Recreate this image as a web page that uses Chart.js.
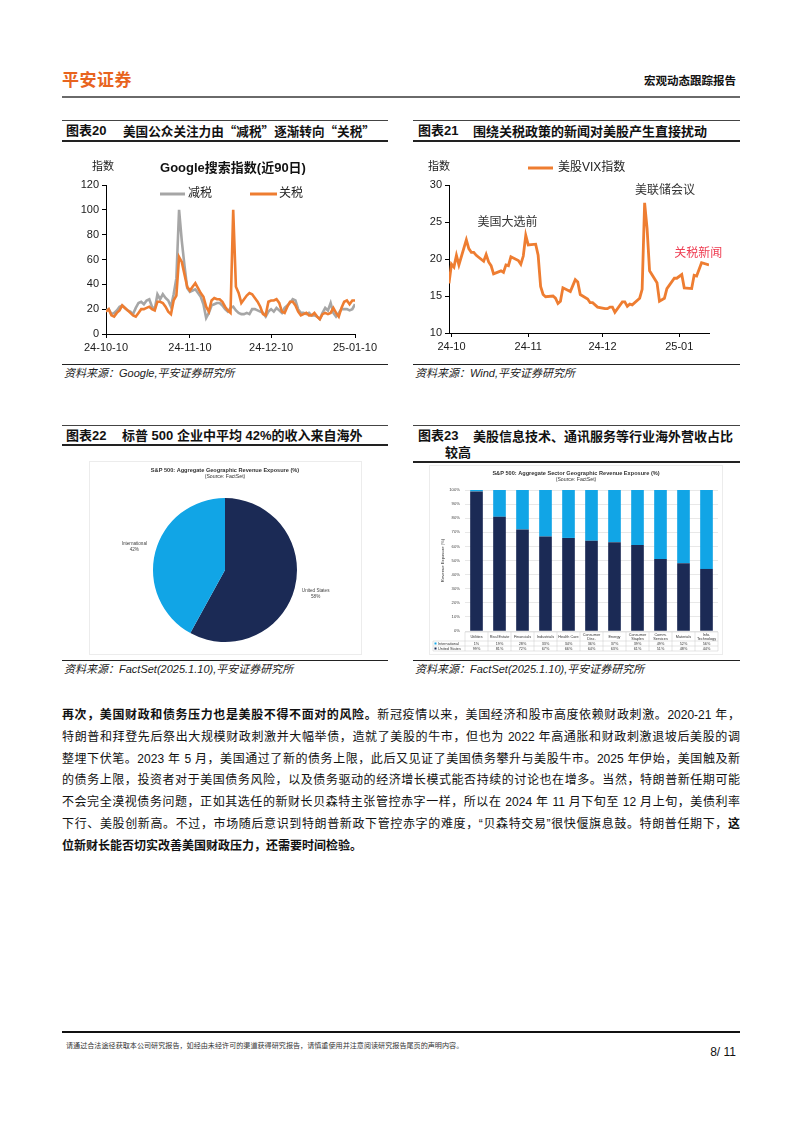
<!DOCTYPE html>
<html><head><meta charset="utf-8">
<script src="https://cdn.jsdelivr.net/npm/chart.js@4.4.1/dist/chart.umd.min.js"></script>
<style>
html,body{margin:0;padding:0;background:#fff;}
body{width:802px;height:1133px;position:relative;overflow:hidden;font-family:'Liberation Sans','Noto Sans CJK SC',sans-serif;color:#111;}
.t{position:absolute;white-space:nowrap;}
.hl{position:absolute;background:#222;}
.ft{font-size:13px;font-weight:bold;line-height:16px;}
.cjk{font-family:'Noto Sans CJK SC','Liberation Sans',sans-serif;}
.src{font-size:11px;font-style:italic;line-height:14px;color:#222;}
canvas{position:absolute;}
.para{position:absolute;left:62px;top:705px;width:678px;font-family:'Liberation Sans Narrow','Liberation Sans','Noto Sans CJK SC',sans-serif;font-size:12px;line-height:21.8px;color:#111;}
.ln{text-align:justify;text-align-last:justify;height:21.8px;overflow:visible;}
.ln.last{text-align-last:left;}
.box{position:absolute;border:1px solid #ececec;background:#fff;}
</style></head>
<body>
<!-- header -->
<div class="t" style="left:62px;top:68px;font-size:17px;font-weight:bold;color:#e8641e;font-family:'Noto Sans CJK SC';line-height:22px;letter-spacing:0.5px;">平安证券</div>
<div class="t" style="right:66px;top:72px;font-size:11.5px;font-weight:bold;font-family:'Noto Sans CJK SC';line-height:16px;">宏观动态跟踪报告</div>
<div class="hl" style="left:62px;top:96px;width:678px;height:2px;background:#6a6a6a;"></div>

<!-- figure 20 title -->
<div class="hl" style="left:62px;top:120px;width:326px;height:1px;background:#444;"></div>
<div class="t ft" style="left:66px;top:123px;">图表20</div>
<div class="t ft cjk" style="left:123px;top:123px;font-size:12.6px;">美国公众关注力由“减税”逐渐转向“关税”</div>
<div class="hl" style="left:62px;top:140px;width:326px;height:1.5px;"></div>
<div class="hl" style="left:62px;top:364px;width:326px;height:1px;"></div>
<div class="t src" style="left:64px;top:366px;">资料来源：Google,平安证券研究所</div>

<!-- figure 21 title -->
<div class="hl" style="left:413px;top:120px;width:327px;height:1px;background:#444;"></div>
<div class="t ft" style="left:418px;top:123px;">图表21</div>
<div class="t ft cjk" style="left:473px;top:123px;">围绕关税政策的新闻对美股产生直接扰动</div>
<div class="hl" style="left:413px;top:140px;width:327px;height:1.5px;"></div>
<div class="hl" style="left:413px;top:364px;width:327px;height:1px;"></div>
<div class="t src" style="left:415px;top:366px;">资料来源：Wind,平安证券研究所</div>

<!-- figure 22 title -->
<div class="hl" style="left:62px;top:425px;width:326px;height:1px;background:#444;"></div>
<div class="t ft" style="left:66px;top:428px;">图表22</div>
<div class="t ft" style="left:122px;top:428px;">标普 500 企业中平均 42%的收入来自海外</div>
<div class="hl" style="left:62px;top:444px;width:326px;height:1.5px;"></div>
<div class="hl" style="left:62px;top:660px;width:326px;height:1px;"></div>
<div class="t src" style="left:64px;top:662px;">资料来源：FactSet(2025.1.10),平安证券研究所</div>

<!-- figure 23 title -->
<div class="hl" style="left:413px;top:425px;width:327px;height:1px;background:#444;"></div>
<div class="t ft" style="left:418px;top:428px;">图表23</div>
<div class="t ft cjk" style="left:473px;top:428px;">美股信息技术、通讯服务等行业海外营收占比</div>
<div class="t ft cjk" style="left:445px;top:444px;">较高</div>
<div class="hl" style="left:413px;top:461px;width:327px;height:1.5px;"></div>
<div class="hl" style="left:413px;top:660px;width:327px;height:1px;"></div>
<div class="t src" style="left:415px;top:662px;">资料来源：FactSet(2025.1.10),平安证券研究所</div>

<canvas id="c20" width="326" height="220" style="left:62px;top:142px;"></canvas>
<canvas id="c21" width="327" height="220" style="left:413px;top:142px;"></canvas>
<div class="box" style="left:89px;top:461px;width:271px;height:192px;"></div>
<canvas id="c22" width="270" height="192" style="left:90px;top:462px;"></canvas>
<div class="box" style="left:429px;top:465px;width:292px;height:188px;"></div>
<canvas id="c23" width="292" height="187" style="left:430px;top:466px;"></canvas>

<div class="para">
<div class="ln"><b>再次，美国财政和债务压力也是美股不得不面对的风险。</b>新冠疫情以来，美国经济和股市高度依赖财政刺激。2020-21 年，</div>
<div class="ln">特朗普和拜登先后祭出大规模财政刺激并大幅举债，造就了美股的牛市，但也为 2022 年高通胀和财政刺激退坡后美股的调</div>
<div class="ln">整埋下伏笔。2023 年 5 月，美国通过了新的债务上限，此后又见证了美国债务攀升与美股牛市。2025 年伊始，美国触及新</div>
<div class="ln">的债务上限，投资者对于美国债务风险，以及债务驱动的经济增长模式能否持续的讨论也在增多。当然，特朗普新任期可能</div>
<div class="ln">不会完全漠视债务问题，正如其选任的新财长贝森特主张管控赤字一样，所以在 2024 年 11 月下旬至 12 月上旬，美债利率</div>
<div class="ln">下行、美股创新高。不过，市场随后意识到特朗普新政下管控赤字的难度，“贝森特交易”很快偃旗息鼓。特朗普任期下，<b>这</b></div>
<div class="ln last"><b>位新财长能否切实改善美国财政压力，还需要时间检验。</b></div>
</div>

<!-- footer -->
<div class="hl" style="left:62px;top:1031px;width:678px;height:1.5px;background:#111;"></div>
<div class="t" style="left:66px;top:1040px;font-size:7.1px;line-height:10px;color:#333;font-family:'Noto Sans CJK SC';">请通过合法途径获取本公司研究报告，如经由未经许可的渠道获得研究报告，请慎重使用并注意阅读研究报告尾页的声明内容。</div>
<div class="t" style="right:66px;top:1045px;font-size:12px;line-height:14px;color:#111;font-family:'Liberation Sans Narrow','Liberation Sans';">8/ 11</div>

<script>
// ---------- DATA ----------
// Chart 20: Google search index, daily 2024-10-10 .. 2025-01-10
const c20Title = 'Google搜索指数(近90日)';
const c20TickPos = [0, 31, 61, 92];
const c20TickLabels = ['24-10-10', '24-11-10', '24-12-10', '25-01-10'];
const c20SeriesNames = ['减税', '关税'];
const c20Jianshui = [
  19,20,16,17,19,22,23,21,19,18,
  16,21,25,26,24,27,28,22,20,32,
  28,32,29,27,22,32,45,100,75,55,
  37,34,35,36,33,30,24,13,17,23,
  24,25,25,23,20,18,21,22,19,17,
  16,16,17,16,20,20,19,18,17,14,
  18,20,18,21,19,17,21,23,25,28,
  27,20,17,17,16,17,15,15,14,12,
  17,21,19,25,17,14,17,20,20,20,
  19,20,24];
const c20Guanshui = [
  18,20,15,14,17,19,23,21,19,17,
  15,14,17,20,20,21,22,20,19,26,
  26,25,22,18,16,27,31,62,58,48,
  38,35,38,41,37,33,30,22,18,27,
  29,28,28,26,22,19,17,100,38,33,
  25,28,31,33,32,29,26,22,16,15,
  26,27,27,28,25,18,17,22,26,26,
  23,18,15,16,17,15,15,17,14,12,
  16,17,16,17,21,17,14,21,26,27,
  24,27,27];

// Chart 21: VIX
const c21SeriesName = '美股VIX指数';
const c21Origin = '2024-10-01';
const c21TickPos = [0, 31, 61, 92];
const c21TickLabels = ['24-10', '24-11', '24-12', '25-01'];
const c21Dates = ['2024-09-30','2024-10-01','2024-10-02','2024-10-03','2024-10-04','2024-10-07','2024-10-08','2024-10-09','2024-10-10','2024-10-11',
  '2024-10-14','2024-10-15','2024-10-16','2024-10-17','2024-10-18','2024-10-21','2024-10-22','2024-10-23','2024-10-24','2024-10-25',
  '2024-10-28','2024-10-29','2024-10-30','2024-10-31','2024-11-01','2024-11-04','2024-11-05','2024-11-06','2024-11-07','2024-11-08',
  '2024-11-11','2024-11-12','2024-11-13','2024-11-14','2024-11-15','2024-11-18','2024-11-19','2024-11-20','2024-11-21','2024-11-22',
  '2024-11-25','2024-11-26','2024-11-27','2024-11-29','2024-12-02','2024-12-03','2024-12-04','2024-12-05','2024-12-06','2024-12-09',
  '2024-12-10','2024-12-11','2024-12-12','2024-12-13','2024-12-16','2024-12-17','2024-12-18','2024-12-19','2024-12-20','2024-12-23',
  '2024-12-24','2024-12-26','2024-12-27','2024-12-30','2024-12-31','2025-01-02','2025-01-03','2025-01-06','2025-01-07','2025-01-08',
  '2025-01-10','2025-01-13'];
const c21Vix = [16.7,19.3,18.9,20.5,19.2,22.6,21.4,20.9,20.9,20.5,
  19.7,20.6,19.6,19.1,18.0,18.4,18.2,19.2,19.1,20.3,
  19.8,19.3,20.4,23.2,21.9,22.0,20.5,16.3,15.2,14.9,
  15.0,14.7,14.0,14.3,16.1,15.6,16.4,17.2,16.9,15.2,
  14.6,14.1,14.1,13.5,13.3,13.3,13.5,13.5,12.8,14.2,
  14.2,13.6,13.9,13.8,14.7,15.9,27.6,24.1,18.4,16.8,
  14.3,14.7,16.0,17.4,17.4,17.9,16.1,16.0,17.8,17.7,
  19.5,19.2];
const c21NoteTexts = ['美国大选前', '美联储会议', '关税新闻'];
const c21NoteDays = [22.6, 86.2, 99.7];
const c21NoteVals = [24.9, 29.2, 20.7];

// Chart 22: pie
const c22Title = 'S&P 500: Aggregate Geographic Revenue Exposure (%)';
const c22Sub = '(Source: FactSet)';
const c22Labels = ['United States', 'International'];
const c22Values = [58, 42];

// Chart 23: stacked bars
const c23Title = 'S&P 500: Aggregate Sector Geographic Revenue Exposure (%)';
const c23Sub = '(Source: FactSet)';
const c23YTitle = 'Revenue Exposure (%)';
const c23Sectors = ['Utilities','Real Estate','Financials','Industrials','Health Care',['Consumer','Disc.'],'Energy',['Consumer','Staples'],['Comm.','Services'],'Materials',['Info.','Technology']];
const c23SeriesNames = ['International', 'United States'];
const c23Intl = [1,19,28,33,34,36,37,39,49,52,56];
const c23US = [99,81,72,67,66,64,63,61,51,48,44];

// ---------- STYLE ----------
const FONT = "'Liberation Sans','Noto Sans CJK SC',sans-serif";
const ORANGE = '#ee7d31', GREY = '#a6a6a6', NAVY = '#1b2a55', SKY = '#11a5e6';
Chart.defaults.color = '#1a1a1a';
Chart.defaults.font.family = FONT;

function lineLegend(ctx, x1, x2, y, color, label, tx) {
  ctx.strokeStyle = color; ctx.lineWidth = 3; ctx.lineCap = 'butt';
  ctx.beginPath(); ctx.moveTo(x1, y); ctx.lineTo(x2, y); ctx.stroke();
  ctx.fillStyle = '#222'; ctx.textAlign = 'left'; ctx.textBaseline = 'middle';
  ctx.fillText(label, tx, y);
}

const axisCommon = (extra) => Object.assign({
  grid: {drawOnChartArea: false, drawTicks: true, tickLength: 4, color: '#000', lineWidth: 1},
  border: {color: '#000', width: 1},
}, extra);

// ---------- CHART 20 ----------
const c20Deco = {
  id: 'c20Deco',
  afterDraw(chart) {
    const ctx = chart.ctx; ctx.save();
    ctx.fillStyle = '#222'; ctx.font = '11px ' + FONT; ctx.textBaseline = 'middle'; ctx.textAlign = 'left';
    ctx.fillText('指数', 30, 25);
    ctx.font = 'bold 13px ' + FONT; ctx.textAlign = 'center'; ctx.fillStyle = '#111';
    ctx.fillText(c20Title, 171, 26);
    ctx.font = '12px ' + FONT;
    const ds = chart.data.datasets;
    lineLegend(ctx, 98, 123, 52, ds[0].borderColor, ds[0].label, 126);
    lineLegend(ctx, 188, 215, 52, ds[1].borderColor, ds[1].label, 217);
    ctx.restore();
  }
};
new Chart(document.getElementById('c20'), {
  type: 'line',
  data: {
    datasets: [
      {label: c20SeriesNames[0], data: c20Jianshui.map((v, i) => ({x: i, y: v})), borderColor: GREY, backgroundColor: GREY, borderWidth: 2.6, pointRadius: 0, order: 1, tension: 0},
      {label: c20SeriesNames[1], data: c20Guanshui.map((v, i) => ({x: i, y: v})), borderColor: ORANGE, backgroundColor: ORANGE, borderWidth: 2.6, pointRadius: 0, order: 0, tension: 0}
    ]
  },
  options: {
    responsive: false, animation: false, devicePixelRatio: 1,
    layout: {padding: {top: 43, right: 33, left: 0, bottom: 0}},
    plugins: {legend: {display: false}, tooltip: {enabled: false}},
    scales: {
      x: axisCommon({type: 'linear', min: 0, max: c20Jianshui.length - 1,
        afterBuildTicks(s) { s.ticks = c20TickPos.map(v => ({value: v})); },
        afterFit(s) { s.height = 28; },
        ticks: {autoSkip: false, maxRotation: 0, padding: 3, font: {size: 11}, color: '#1a1a1a',
          callback: (v) => c20TickLabels[c20TickPos.indexOf(v)]}}),
      y: axisCommon({min: 0, max: 120,
        afterFit(s) { s.width = 44; },
        ticks: {stepSize: 20, padding: 3, font: {size: 11}, color: '#1a1a1a'}})
    }
  },
  plugins: [c20Deco]
});

// ---------- CHART 21 ----------
const c21Deco = {
  id: 'c21Deco',
  afterDraw(chart) {
    const ctx = chart.ctx; ctx.save();
    ctx.fillStyle = '#222'; ctx.font = '11px ' + FONT; ctx.textBaseline = 'middle'; ctx.textAlign = 'left';
    ctx.fillText('指数', 15, 25);
    ctx.font = '12px ' + FONT;
    const ds = chart.data.datasets;
    lineLegend(ctx, 115, 140, 26, ds[0].borderColor, ds[0].label, 145);
    const xs = chart.scales.x, ys = chart.scales.y;
    ctx.textAlign = 'center';
    c21NoteTexts.forEach((t, i) => {
      ctx.fillStyle = i === 2 ? '#ee3b50' : '#333';
      ctx.fillText(t, xs.getPixelForValue(c21NoteDays[i]), ys.getPixelForValue(c21NoteVals[i]));
    });
    ctx.restore();
  }
};
const dayMs = 86400000;
const c21Points = c21Dates.map((d, i) => ({x: (Date.parse(d) - Date.parse(c21Origin)) / dayMs, y: c21Vix[i]}));
new Chart(document.getElementById('c21'), {
  type: 'line',
  data: {datasets: [{label: c21SeriesName, data: c21Points, borderColor: ORANGE, backgroundColor: ORANGE, borderWidth: 2.8, pointRadius: 0, tension: 0}]},
  options: {
    responsive: false, animation: false, devicePixelRatio: 1,
    layout: {padding: {top: 43, right: 31, left: 0, bottom: 0}},
    plugins: {legend: {display: false}, tooltip: {enabled: false}},
    scales: {
      x: axisCommon({type: 'linear', min: c21Points[0].x, max: c21Points[c21Points.length - 1].x,
        afterBuildTicks(s) { s.ticks = c21TickPos.map(v => ({value: v})); },
        afterFit(s) { s.height = 29; },
        ticks: {autoSkip: false, maxRotation: 0, padding: 3, font: {size: 11}, color: '#1a1a1a',
          callback: (v) => c21TickLabels[c21TickPos.indexOf(v)]}}),
      y: axisCommon({min: 10, max: 30,
        afterFit(s) { s.width = 36; },
        ticks: {stepSize: 5, padding: 3, font: {size: 11}, color: '#1a1a1a'}})
    }
  },
  plugins: [c21Deco]
});

// ---------- CHART 22 ----------
const c22Deco = {
  id: 'c22Deco',
  afterDraw(chart) {
    const ctx = chart.ctx; ctx.save();
    ctx.textAlign = 'center'; ctx.textBaseline = 'middle'; ctx.fillStyle = '#333';
    ctx.font = 'bold 5.6px ' + FONT; ctx.fillText(c22Title, 135, 8);
    ctx.font = '5.2px ' + FONT; ctx.fillText(c22Sub, 135, 15);
    const meta = chart.getDatasetMeta(0);
    ctx.font = '4.6px ' + FONT; ctx.fillStyle = '#444';
    meta.data.forEach((arc, i) => {
      const mid = (arc.startAngle + arc.endAngle) / 2;
      const r = arc.outerRadius * 1.3;
      const x = arc.x + Math.cos(mid) * r, y = arc.y + Math.sin(mid) * r;
      ctx.fillText(chart.data.labels[i], x, y - 3);
      ctx.fillText(chart.data.datasets[0].data[i] + '%', x, y + 3);
    });
    ctx.restore();
  }
};
new Chart(document.getElementById('c22'), {
  type: 'pie',
  data: {labels: c22Labels, datasets: [{data: c22Values, backgroundColor: [NAVY, SKY], borderWidth: 0}]},
  options: {
    responsive: false, animation: false, devicePixelRatio: 1,
    layout: {padding: {top: 36, bottom: 12, left: 0, right: 0}},
    plugins: {legend: {display: false}, tooltip: {enabled: false}}
  },
  plugins: [c22Deco]
});

// ---------- CHART 23 ----------
const c23Deco = {
  id: 'c23Deco',
  afterDraw(chart) {
    const ctx = chart.ctx; const xs = chart.scales.x; const ca = chart.chartArea;
    ctx.save();
    ctx.textAlign = 'center'; ctx.textBaseline = 'middle'; ctx.fillStyle = '#333';
    ctx.font = 'bold 5.6px ' + FONT; ctx.fillText(c23Title, 146, 7);
    ctx.font = '5.2px ' + FONT; ctx.fillText(c23Sub, 146, 14);
    // y title
    ctx.save(); ctx.translate(13, (ca.top + ca.bottom) / 2); ctx.rotate(-Math.PI / 2);
    ctx.font = '4.2px ' + FONT; ctx.fillText(c23YTitle, 0, 0); ctx.restore();
    // data table
    const n = c23Sectors.length, step = xs.width / n;
    const rows = [ca.bottom + 1, ca.bottom + 10, ca.bottom + 15, ca.bottom + 20];
    const tl = 3;
    ctx.strokeStyle = '#c8c8c8'; ctx.lineWidth = 0.5;
    rows.forEach((ry, k) => { ctx.beginPath(); ctx.moveTo(k === 0 ? xs.left : tl, ry); ctx.lineTo(xs.right, ry); ctx.stroke(); });
    for (let i = 0; i <= n; i++) { const vx = xs.left + i * step; ctx.beginPath(); ctx.moveTo(vx, rows[0]); ctx.lineTo(vx, rows[3]); ctx.stroke(); }
    ctx.beginPath(); ctx.moveTo(tl, rows[1]); ctx.lineTo(tl, rows[3]); ctx.stroke();
    ctx.font = '3.8px ' + FONT; ctx.fillStyle = '#333';
    c23Sectors.forEach((s, i) => {
      const cx = xs.getPixelForValue(i);
      const lines = Array.isArray(s) ? s : [s];
      const y0 = (rows[0] + rows[1]) / 2 - (lines.length - 1) * 2;
      lines.forEach((l, k) => ctx.fillText(l, cx, y0 + k * 4));
      ctx.fillText(c23Intl[i] + '%', cx, (rows[1] + rows[2]) / 2);
      ctx.fillText(c23US[i] + '%', cx, (rows[2] + rows[3]) / 2);
    });
    ctx.textAlign = 'left';
    ctx.fillStyle = SKY; ctx.fillRect(tl + 1.5, (rows[1] + rows[2]) / 2 - 1, 2, 2);
    ctx.fillStyle = NAVY; ctx.fillRect(tl + 1.5, (rows[2] + rows[3]) / 2 - 1, 2, 2);
    ctx.fillStyle = '#333';
    ctx.fillText(c23SeriesNames[0], tl + 5, (rows[1] + rows[2]) / 2);
    ctx.fillText(c23SeriesNames[1], tl + 5, (rows[2] + rows[3]) / 2);
    ctx.restore();
  }
};
new Chart(document.getElementById('c23'), {
  type: 'bar',
  data: {
    labels: c23Sectors.map(s => Array.isArray(s) ? s.join(' ') : s),
    datasets: [
      {label: c23SeriesNames[1], data: c23US, backgroundColor: NAVY, borderWidth: 0, barPercentage: 0.55, categoryPercentage: 1},
      {label: c23SeriesNames[0], data: c23Intl, backgroundColor: SKY, borderWidth: 0, barPercentage: 0.55, categoryPercentage: 1}
    ]
  },
  options: {
    responsive: false, animation: false, devicePixelRatio: 1,
    layout: {padding: {top: 24, right: 4, left: 0, bottom: 0}},
    plugins: {legend: {display: false}, tooltip: {enabled: false}},
    scales: {
      x: {stacked: true, grid: {display: false}, border: {display: false}, ticks: {display: false},
        afterFit(s) { s.height = 22; }},
      y: {stacked: true, min: 0, max: 100,
        afterFit(s) { s.width = 35; },
        grid: {color: '#d9d9d9', lineWidth: 0.6, drawTicks: false},
        border: {display: false},
        ticks: {stepSize: 10, padding: 5, font: {size: 4.2}, color: '#444', callback: v => v + '%'}}
    }
  },
  plugins: [c23Deco]
});
</script>
</body></html>
